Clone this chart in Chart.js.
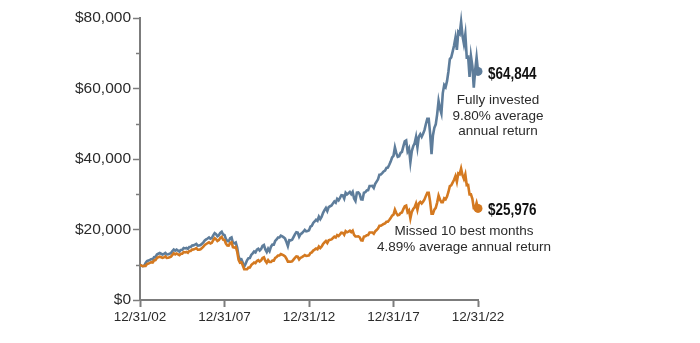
<!DOCTYPE html>
<html>
<head>
<meta charset="utf-8">
<script src="https://cdn.jsdelivr.net/npm/chart.js@4"></script>
<style>
  html, body { margin: 0; padding: 0; background: #fff; }
  #wrap { position: relative; width: 700px; height: 343px; }
</style>
</head>
<body>
<div id="wrap"><canvas id="myChart"></canvas></div>
<script>
// growth of $10,000, month ends 12/31/02 .. 12/31/22
var xTickLabels = ['12/31/02', '12/31/07', '12/31/12', '12/31/17', '12/31/22'];
var seriesNames = ['Fully invested', 'Missed 10 best months'];

var fullyInvested = [10000,
  9742, 9593, 9689, 10491, 11044, 11187, 11387, 11610, 11491, 12142, 12249, 12890,
  13134, 13317, 13121, 12922, 13101, 13358, 12921, 12972, 13116, 13321, 13858, 14331,
  13992, 14281, 14030, 13772, 14207, 14229, 14765, 14623, 14749, 14512, 15046, 15057,
  15466, 15499, 15696, 15913, 15448, 15475, 15580, 15936, 16356, 16897, 17203, 17449,
  17724, 17366, 17570, 18360, 18989, 18682, 18114, 18376, 19067, 19380, 18557, 18427,
  17329, 16754, 16682, 17504, 17721, 16224, 16091, 16312, 14857, 12360, 11453, 11562,
  10589, 9441, 10264, 11246, 11863, 11885, 12787, 13238, 13734, 13484, 14281, 14559,
  14044, 14469, 15344, 15597, 14342, 13592, 14551, 13883, 15123, 15707, 15697, 16749,
  17157, 17734, 17746, 18282, 18065, 17764, 17411, 16450, 15294, 16970, 16912, 17083,
  17858, 18613, 19229, 19115, 17947, 18689, 18954, 19362, 19863, 19502, 19590, 19760,
  20791, 21056, 21851, 22283, 22783, 22478, 23628, 22927, 23650, 24744, 25480, 26124,
  25236, 26368, 26594, 26802, 27413, 27982, 27605, 28693, 28293, 28998, 29757, 29681,
  28808, 30440, 29960, 30265, 30633, 30039, 30685, 28810, 28093, 30476, 30540, 30054,
  28577, 28506, 30438, 30571, 31091, 31171, 32335, 32346, 32362, 31785, 32928, 33578,
  34236, 35567, 35613, 35997, 36474, 36710, 37482, 37565, 38353, 39268, 40437, 40904,
  43272, 41657, 40604, 40783, 41732, 42005, 43588, 44982, 45249, 42178, 43001, 39120,
  42268, 43597, 44452, 46275, 43304, 46366, 47051, 46277, 47148, 48191, 49914, 51425,
  51428, 47179, 41346, 46665, 48861, 49840, 52674, 56457, 54333, 52915, 58703, 60981,
  60401, 62081, 64822, 68334, 68821, 70470, 72193, 74408, 70983, 76017, 75507, 78928,
  74906, 72673, 75399, 68882, 69000, 63315, 69195, 66369, 60270, 65189, 68807, 64844];

var missedBest = [10000,
  9742, 9593, 9689, 9692, 10203, 10335, 10520, 10726, 10616, 11218, 11317, 11909,
  12134, 12303, 12122, 11938, 12104, 12341, 11937, 11984, 12118, 12307, 12803, 13240,
  12927, 13194, 12962, 12724, 13125, 13146, 13641, 13510, 13626, 13407, 13901, 13911,
  14289, 14319, 14501, 14702, 14272, 14297, 14394, 14723, 15111, 15611, 15894, 16121,
  16375, 16044, 16232, 16962, 17544, 17260, 16735, 16977, 17615, 17905, 17144, 17024,
  16010, 15478, 15412, 16171, 16372, 14989, 14866, 15070, 13726, 11419, 10581, 10682,
  9783, 8722, 8719, 8719, 9197, 9214, 9913, 10263, 10647, 10453, 11071, 11287,
  10888, 11217, 11895, 12092, 11119, 10537, 11281, 10763, 10765, 11180, 11173, 11922,
  12212, 12623, 12632, 13013, 12859, 12644, 12393, 11709, 10886, 10889, 10851, 10961,
  11458, 11943, 12338, 12265, 11516, 11992, 12162, 12424, 12745, 12513, 12570, 12679,
  13340, 13510, 14020, 14298, 14619, 14423, 15161, 14711, 15175, 15877, 16349, 16762,
  16192, 16919, 17064, 17197, 17589, 17954, 17713, 18411, 18154, 18606, 19093, 19045,
  18485, 19532, 19224, 19419, 19655, 19274, 19689, 18486, 18026, 18033, 18071, 17783,
  16910, 16868, 18011, 18090, 18397, 18445, 19133, 19140, 19149, 18808, 19484, 19869,
  20258, 21046, 21073, 21300, 21583, 21722, 22179, 22228, 22694, 23236, 23927, 24204,
  25605, 24649, 24026, 24132, 24694, 24855, 25792, 26617, 26775, 24958, 25445, 23148,
  25011, 25797, 26303, 27382, 25624, 27436, 27841, 27383, 27899, 28516, 29535, 30429,
  30431, 27917, 24465, 24474, 25626, 26140, 27626, 29610, 28496, 27752, 27749, 28826,
  28552, 29346, 30641, 32302, 32532, 33311, 34126, 35173, 33554, 35933, 35692, 37309,
  35408, 34353, 35641, 32561, 32616, 29929, 29948, 28725, 26085, 26100, 27548, 25976];

var annualReturns = ['9.80%', '4.89%'];

var BLUE = 'rgb(94,125,155)';
var ORANGE = 'rgb(212,121,32)';
var AXIS = '#7c7c7c';
var TEXT = '#2b2b2b';

function money(v) {
  return '$' + String(v).replace(/\B(?=(\d{3})+(?!\d))/g, ',');
}

function endDot(arr) {
  return function (c) { return c.dataIndex === arr.length - 1 ? 4.5 : 0; };
}

// narrow bold value label (no condensed face installed, so squeeze it)
function boldValue(ctx, txt, x, y) {
  ctx.save();
  ctx.translate(x, y);
  ctx.scale(0.84, 1);
  ctx.fillText(txt, 0, 0);
  ctx.restore();
}

// short ticks at $10k, $30k ... and the notes next to the end points
var extras = {
  id: 'extras',
  afterDraw: function (chart) {
    var ctx = chart.ctx;
    var y = chart.scales.y, x = chart.scales.x;
    ctx.save();
    ctx.strokeStyle = AXIS;
    ctx.lineWidth = 1.5;
    for (var v = 10000; v < 80000; v += 20000) {
      var py = Math.round(y.getPixelForValue(v)) + 0.5;
      ctx.beginPath();
      ctx.moveTo(x.left - 4, py);
      ctx.lineTo(x.left, py);
      ctx.stroke();
    }

    var ex = x.getPixelForValue(fullyInvested.length - 1);
    var by = y.getPixelForValue(fullyInvested[fullyInvested.length - 1]);
    var oy = y.getPixelForValue(missedBest[missedBest.length - 1]);

    ctx.fillStyle = '#111';
    ctx.textAlign = 'left';
    ctx.textBaseline = 'middle';
    ctx.font = 'bold 16px "Liberation Sans", Arial, sans-serif';
    boldValue(ctx, money(fullyInvested[fullyInvested.length - 1]), ex + 10, by + 3);
    boldValue(ctx, money(missedBest[missedBest.length - 1]), ex + 10, oy + 2);

    ctx.fillStyle = TEXT;
    ctx.textAlign = 'center';
    ctx.font = '13.5px "Liberation Sans", Arial, sans-serif';
    ctx.fillText(seriesNames[0], ex + 20, by + 29);
    ctx.fillText(annualReturns[0] + ' average', ex + 20, by + 45);
    ctx.fillText('annual return', ex + 20, by + 60);
    ctx.fillText(seriesNames[1], ex - 14, oy + 23);
    ctx.fillText(annualReturns[1] + ' average annual return', ex - 14, oy + 39);
    ctx.restore();
  }
};

new Chart(document.getElementById('myChart').getContext('2d'), {
  type: 'line',
  data: {
    datasets: [{
      label: seriesNames[1],
      data: missedBest.map(function (v, i) { return { x: i, y: v }; }),
      borderColor: ORANGE,
      backgroundColor: ORANGE,
      borderWidth: 2.6,
      pointRadius: endDot(missedBest),
      pointBorderWidth: 0,
      clip: false,
      tension: 0
    }, {
      label: seriesNames[0],
      data: fullyInvested.map(function (v, i) { return { x: i, y: v }; }),
      borderColor: BLUE,
      backgroundColor: BLUE,
      borderWidth: 2.6,
      pointRadius: endDot(fullyInvested),
      pointBorderWidth: 0,
      clip: false,
      tension: 0
    }]
  },
  options: {
    responsive: true,
    maintainAspectRatio: false,
    animation: false,
    layout: { padding: { top: 18, right: 222, bottom: 0, left: 0 } },
    plugins: { legend: { display: false }, tooltip: { enabled: false } },
    scales: {
      x: {
        type: 'linear',
        min: 0,
        max: 240,
        afterBuildTicks: function (s) {
          s.ticks = xTickLabels.map(function (l, i) { return { value: i * 60 }; });
        },
        afterFit: function (s) { s.height = 43; },
        border: { color: AXIS, width: 2 },
        grid: { drawOnChartArea: false, tickLength: 7, tickColor: AXIS, tickWidth: 2 },
        ticks: {
          padding: 2,
          maxRotation: 0,
          autoSkip: false,
          color: TEXT,
          font: { family: '"Liberation Sans", Arial, sans-serif', size: 13.5 },
          callback: function (v) { return xTickLabels[v / 60]; }
        }
      },
      y: {
        min: 0,
        max: 80000,
        afterFit: function (s) { s.width = 140; },
        border: { color: AXIS, width: 2 },
        grid: { drawOnChartArea: false, tickLength: 7, tickColor: AXIS, tickWidth: 1.5 },
        ticks: {
          stepSize: 20000,
          padding: 2,
          color: TEXT,
          font: { family: '"Liberation Sans", Arial, sans-serif', size: 15.5 },
          callback: function (v) { return money(v); }
        }
      }
    }
  },
  plugins: [extras]
});
</script>
</body>
</html>
